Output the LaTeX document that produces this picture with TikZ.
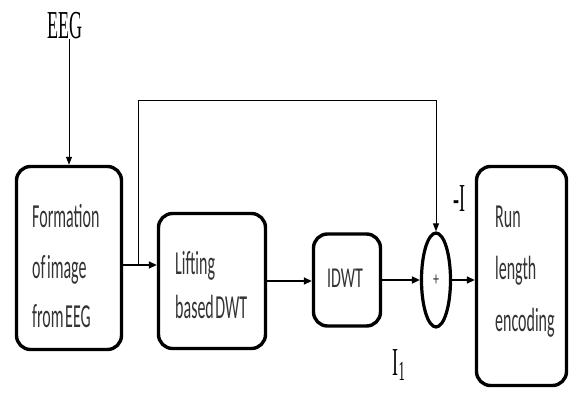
\documentclass[tikz,border=0pt]{standalone}
\usepackage{fontspec}
\setmainfont{Liberation Serif}
\newfontfamily\calfont{Carlito}
\usetikzlibrary{shapes.geometric,arrows.meta}
\newcommand\myvs[1]{\scalebox{1}[2.1]{\spaceskip=0.1em\relax #1}}
\newcommand\myvss[1]{\scalebox{1}[2.2]{#1}}
\begin{document}
\begin{tikzpicture}[x=1pt,y=-1pt,
  box/.style={draw, line width=3.4pt, rounded corners=14pt, inner sep=0pt},
  txt/.style={inner sep=0pt, anchor=base west, font=\calfont\fontsize{16}{18}\selectfont, text=black!80},
  ser/.style={inner sep=0pt, font=\fontsize{18}{20}\selectfont},
  conn/.style={line width=1.6pt, -{Triangle[length=8pt,width=7pt]}},
  thinarr/.style={line width=1pt, -{Triangle[length=8pt,width=6pt]}}]
\useasboundingbox (0,0) rectangle (570,394);
% boxes
\node[box, minimum width=105pt, minimum height=183pt] (b1) at (69,258) {};
\node[box, minimum width=107pt, minimum height=135pt] (b2) at (212,281) {};
\node[box, minimum width=67pt, minimum height=92pt] (b3) at (347,280) {};
\node[draw, ellipse, line width=3.2pt, minimum width=29pt, minimum height=94pt, inner sep=0pt,
      font=\calfont\fontsize{12}{14}\selectfont, text=black!80] (sum) at (436,280) {\scalebox{1}[1.6]{+}};
\node[box, minimum width=90pt, minimum height=219pt] (b4) at (521.5,276) {};
% texts
\node[txt] (f1) at (32,227) {\myvs{Formation}};
\node[txt] (f2) at (32,278) {\myvs{of image}};
\node[txt] (f3) at (32,327) {\myvs{from EEG}};
\node[txt] (l1) at (175,274) {\myvs{Lifting}};
\node[txt] (l2) at (175,318) {\myvs{based DWT}};
\node[txt, anchor=base] (id) at (345,287) {\scalebox{1}[1.8]{IDWT}};
\node[txt] (r1) at (495,227) {\myvs{Run}};
\node[txt] (r2) at (495,279) {\myvs{length}};
\node[txt] (r3) at (495,331) {\myvs{encoding}};
\node[ser, anchor=base] (eeg) at (65,38) {\myvss{EEG}};
\node[ser, anchor=base] (mi) at (459,211) {\myvss{-I}};
\node[ser, anchor=base] (i1) at (399,375) {\myvss{I\textsubscript{1}}};
% connectors
\draw[thinarr] (eeg.south -| b1.north) -- (b1.north);
\coordinate (p1) at ([yshift=-7pt]b1.east);
\draw[conn] (p1) -- (p1 -| b2.west);
\coordinate (fbtop) at (138,100);
\draw[line width=1pt] (fbtop |- p1) -- (fbtop);
\draw[thinarr] (fbtop) -| (sum.north);
\draw[conn] (b2.east) -- (b2.east -| b3.west);
\draw[conn] (b3.east) -- (sum.west);
\draw[conn] (sum.east) -- (sum.east -| b4.west);
\end{tikzpicture}
\end{document}
